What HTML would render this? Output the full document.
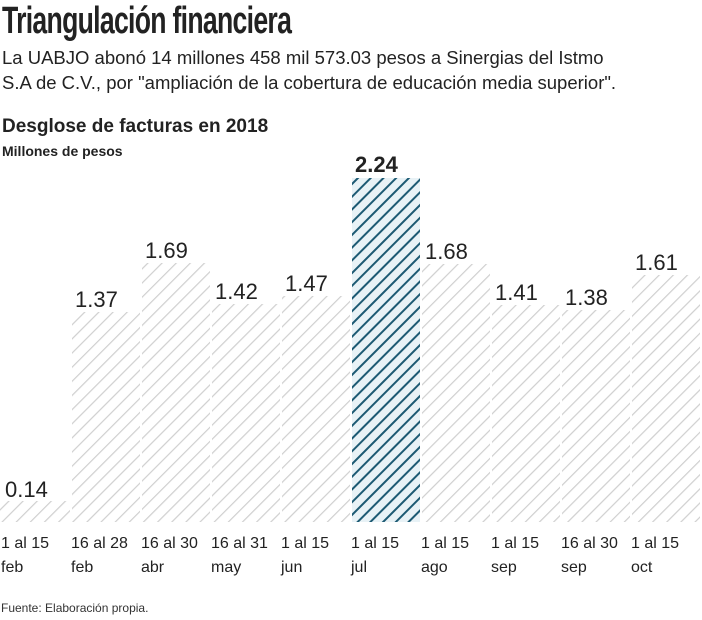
<!DOCTYPE html>
<html><head><meta charset="utf-8"><style>
body{margin:0;width:702px;height:620px;background:#fff;font-family:"Liberation Sans",sans-serif;color:#222;position:relative;overflow:hidden}
.a{position:absolute;white-space:nowrap}
</style></head><body>
<div class="a" style="left:2px;top:0px;font-weight:bold;font-size:38px;letter-spacing:-1px;transform:scaleX(0.70);transform-origin:0 0">Triangulación financiera</div>
<div class="a" style="left:2px;top:45px;font-size:18.5px;line-height:25px">La UABJO abonó 14 millones 458 mil 573.03 pesos a Sinergias del Istmo<br>S.A de C.V., por "ampliación de la cobertura de educación media superior".</div>
<div class="a" style="left:2px;top:116px;font-size:19px;font-weight:bold">Desglose de facturas en 2018</div>
<div class="a" style="left:2px;top:143px;font-size:14px;font-weight:bold">Millones de pesos</div>
<svg class="a" style="left:0;top:0" width="702" height="620">
<defs>
<pattern id="g" patternUnits="userSpaceOnUse" width="10" height="10" patternTransform="rotate(45)"><line x1="0" y1="0" x2="0" y2="10" stroke="#cfcfcf" stroke-width="2.4"/></pattern>
<pattern id="b" patternUnits="userSpaceOnUse" width="9" height="9" patternTransform="rotate(45)"><rect width="9" height="9" fill="#e8f2f6"/><line x1="0" y1="0" x2="0" y2="9" stroke="#1d5a73" stroke-width="4"/></pattern>
</defs>
<g font-size="22" fill="#222">
<rect x="0" y="501" width="70" height="21" fill="url(#g)"/><text x="5" y="497">0.14</text>
<rect x="72" y="312" width="68" height="210" fill="url(#g)"/><text x="75" y="307">1.37</text>
<rect x="142" y="263" width="68" height="259" fill="url(#g)"/><text x="145" y="258">1.69</text>
<rect x="212" y="304" width="68" height="218" fill="url(#g)"/><text x="215" y="299">1.42</text>
<rect x="282" y="296" width="68" height="226" fill="url(#g)"/><text x="285" y="291">1.47</text>
<rect x="352" y="178" width="68" height="344" fill="url(#b)"/><text x="355" y="172" font-weight="bold">2.24</text>
<rect x="422" y="264" width="68" height="258" fill="url(#g)"/><text x="425" y="259">1.68</text>
<rect x="492" y="305" width="68" height="217" fill="url(#g)"/><text x="495" y="300">1.41</text>
<rect x="562" y="310" width="68" height="212" fill="url(#g)"/><text x="565" y="305">1.38</text>
<rect x="632" y="275" width="68" height="247" fill="url(#g)"/><text x="635" y="270">1.61</text>
</g>
<g font-size="16" fill="#222">
<text x="1" y="548">1 al 15</text><text x="1" y="572">feb</text>
<text x="71" y="548">16 al 28</text><text x="71" y="572">feb</text>
<text x="141" y="548">16 al 30</text><text x="141" y="572">abr</text>
<text x="211" y="548">16 al 31</text><text x="211" y="572">may</text>
<text x="281" y="548">1 al 15</text><text x="281" y="572">jun</text>
<text x="351" y="548">1 al 15</text><text x="351" y="572">jul</text>
<text x="421" y="548">1 al 15</text><text x="421" y="572">ago</text>
<text x="491" y="548">1 al 15</text><text x="491" y="572">sep</text>
<text x="561" y="548">16 al 30</text><text x="561" y="572">sep</text>
<text x="631" y="548">1 al 15</text><text x="631" y="572">oct</text>
</g>
<text x="1" y="612" font-size="12" fill="#333">Fuente: Elaboración propia.</text>
</svg>
</body></html>
